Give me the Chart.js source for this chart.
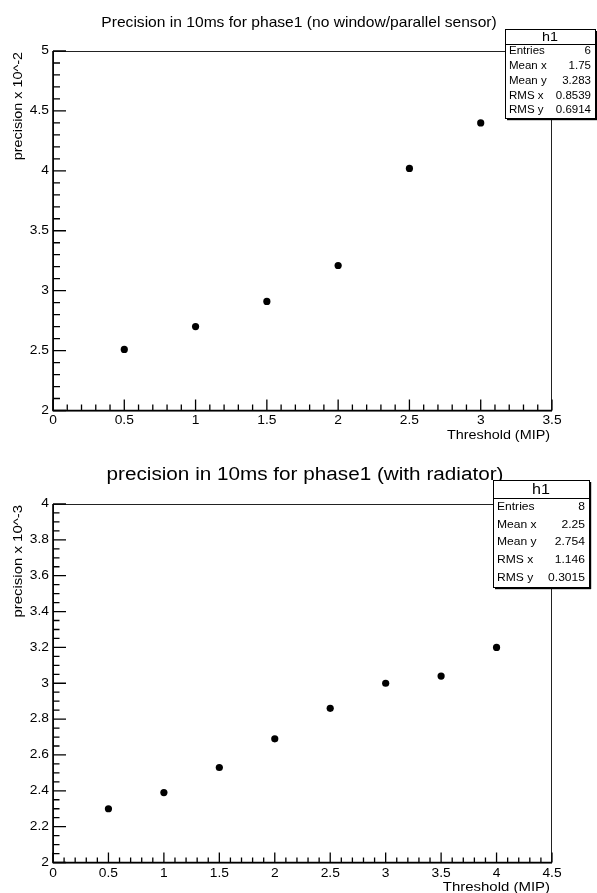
<!DOCTYPE html>
<html>
<head>
<meta charset="utf-8">
<title>precision vs threshold</title>
<script src="https://cdn.jsdelivr.net/npm/chart.js@4.4.1/dist/chart.umd.min.js"></script>
<style>
    html, body { margin: 0; padding: 0; background: #fff; }
    .pad { position: relative; width: 597px; }
    canvas { display: block; }
</style>
</head>
<body>
<div class="pad"><canvas id="phaseNoWindow" width="597" height="447"></canvas></div>
<div class="pad"><canvas id="phaseRadiator" width="597" height="446"></canvas></div>
<script>
// phase1, no window / parallel sensor (precision x 10^-2)
const topThreshold = [0.5, 1, 1.5, 2, 2.5, 3];
const topPrecision = [2.51, 2.70, 2.91, 3.21, 4.02, 4.40];
const topXTicks = [0, 0.5, 1, 1.5, 2, 2.5, 3, 3.5];
const topYTicks = [2, 2.5, 3, 3.5, 4, 4.5, 5];
const topStats = [['Entries', '6'], ['Mean x', '1.75'], ['Mean y', '3.283'], ['RMS x', '0.8539'], ['RMS y', '0.6914']];

// phase1 with radiator (precision x 10^-3)
const bottomThreshold = [0.5, 1, 1.5, 2, 2.5, 3, 3.5, 4];
const bottomPrecision = [2.30, 2.39, 2.53, 2.69, 2.86, 3.00, 3.04, 3.20];
const bottomXTicks = [0, 0.5, 1, 1.5, 2, 2.5, 3, 3.5, 4, 4.5];
const bottomYTicks = [2, 2.2, 2.4, 2.6, 2.8, 3, 3.2, 3.4, 3.6, 3.8, 4];
const bottomStats = [['Entries', '8'], ['Mean x', '2.25'], ['Mean y', '2.754'], ['RMS x', '1.146'], ['RMS y', '0.3015']];

const FONT = "'Liberation Sans', Arial, Helvetica, sans-serif";

function text(ctx, str, x, y, size, align, sx = 1, rotate = 0) {
    ctx.save();
    ctx.font = size + 'px ' + FONT;
    ctx.fillStyle = '#000';
    ctx.textAlign = align;
    ctx.textBaseline = 'middle';
    ctx.translate(x, y);
    if (rotate) ctx.rotate(rotate);
    ctx.scale(sx, 1);
    ctx.fillText(str, 0, 0);
    ctx.restore();
}

// ROOT-like frame: inward ticks, labels, titles and stat box
const rootFrame = {
    id: 'rootFrame',
    beforeDatasetsDraw(chart, args, o) {
        const ctx = chart.ctx;
        const { left, right, top, bottom } = chart.chartArea;
        const xs = chart.scales.x, ys = chart.scales.y;

        ctx.save();
        ctx.strokeStyle = '#222';
        ctx.lineWidth = 1;
        ctx.strokeRect(left + 0.5, top + 0.5, right - left - 1, bottom - top);

        ctx.strokeStyle = '#000';
        ctx.lineWidth = 1.6;
        ctx.beginPath();
        ctx.moveTo(left, top); ctx.lineTo(left, bottom); ctx.lineTo(right, bottom);
        ctx.stroke();

        ctx.lineWidth = 1.3;
        ctx.beginPath();
        // minor ticks
        for (let v = xs.min; v <= xs.max + 1e-9; v += o.xMinor) {
            const px = xs.getPixelForValue(v);
            ctx.moveTo(px, bottom); ctx.lineTo(px, bottom - o.xTick[1]);
        }
        for (let v = ys.min; v <= ys.max + 1e-9; v += o.yMinor) {
            const py = ys.getPixelForValue(v);
            ctx.moveTo(left, py); ctx.lineTo(left + o.yTick[1], py);
        }
        // major ticks
        o.xTicks.forEach(v => {
            const px = xs.getPixelForValue(v);
            ctx.moveTo(px, bottom); ctx.lineTo(px, bottom - o.xTick[0]);
        });
        o.yTicks.forEach(v => {
            const py = ys.getPixelForValue(v);
            ctx.moveTo(left, py); ctx.lineTo(left + o.yTick[0], py);
        });
        ctx.stroke();
        ctx.restore();

        o.xTicks.forEach(v => text(ctx, String(v), xs.getPixelForValue(v), bottom + o.xLabelDy, o.labelSize, 'center', o.labelSx));
        o.yTicks.forEach(v => text(ctx, String(v), left - 4, ys.getPixelForValue(v), o.labelSize, 'right', o.labelSx));

        text(ctx, o.xTitle, right - 2, bottom + o.xTitleDy, o.axisTitleSize, 'right', o.labelSx);
        text(ctx, o.yTitle, o.yTitleX, top + 1, o.axisTitleSize, 'right', o.labelSx, -Math.PI / 2);
        text(ctx, o.title, o.titleX, o.titleY, o.titleSize, 'center', o.titleSx);
    },
    afterDraw(chart, args, o) {
        const ctx = chart.ctx;
        const b = o.box;
        ctx.save();
        ctx.fillStyle = '#fff';
        ctx.fillRect(b.x, b.y, b.w, b.h);
        ctx.strokeStyle = '#000';
        ctx.lineWidth = 1;
        ctx.strokeRect(b.x + 0.5, b.y + 0.5, b.w, b.h);
        ctx.beginPath();
        ctx.moveTo(b.x, b.y + b.head + 0.5); ctx.lineTo(b.x + b.w, b.y + b.head + 0.5);
        ctx.stroke();
        ctx.fillStyle = '#000';
        ctx.fillRect(b.x + 2, b.y + b.h + 1, b.w, 1.2);
        ctx.fillRect(b.x + b.w + 1, b.y + 2, 1.2, b.h);
        ctx.restore();

        text(ctx, 'h1', b.x + b.w / 2, b.y + b.head / 2 + 1, b.headSize, 'center', o.labelSx);
        const row = (b.h - b.head) / o.stats.length;
        o.stats.forEach(([name, val], i) => {
            const cy = b.y + b.head + row * (i + 0.5);
            text(ctx, name, b.x + 4, cy, b.size, 'left', o.labelSx);
            text(ctx, val, b.x + b.w - 4, cy, b.size, 'right', o.labelSx);
        });
    }
};

function makePlot(id, xs, ys, xMax, yMin, yMax, padding, frame) {
    return new Chart(document.getElementById(id), {
        type: 'scatter',
        data: {
            datasets: [{
                data: xs.map((x, i) => ({ x: x, y: ys[i] })),
                pointStyle: 'circle',
                pointRadius: 3.6,
                pointBackgroundColor: '#000',
                pointBorderWidth: 0,
                clip: false
            }]
        },
        options: {
            responsive: false,
            animation: false,
            events: [],
            layout: { padding: padding },
            scales: {
                x: { type: 'linear', min: 0, max: xMax, display: false },
                y: { type: 'linear', min: yMin, max: yMax, display: false }
            },
            plugins: {
                legend: { display: false },
                tooltip: { enabled: false },
                rootFrame: frame
            }
        },
        plugins: [rootFrame]
    });
}

makePlot('phaseNoWindow', topThreshold, topPrecision, 3.5, 2, 5,
    { left: 53, right: 45, top: 51, bottom: 36.5 },
    {
        xTicks: topXTicks, yTicks: topYTicks, xMinor: 0.1, yMinor: 0.1,
        xTick: [11, 6], yTick: [13, 7],
        labelSize: 12, labelSx: 1.15, xLabelDy: 10,
        axisTitleSize: 12.5, xTitle: 'Threshold (MIP)', xTitleDy: 25,
        yTitle: 'precision x 10^-2', yTitleX: 19,
        title: 'Precision in 10ms for phase1 (no window/parallel sensor)',
        titleX: 299, titleY: 23, titleSize: 15, titleSx: 1.04,
        stats: topStats,
        box: { x: 505, y: 29, w: 90, h: 89, head: 15, headSize: 12.5, size: 10 }
    });

makePlot('phaseRadiator', bottomThreshold, bottomPrecision, 4.5, 2, 4,
    { left: 53, right: 45, top: 57, bottom: 30.5 },
    {
        xTicks: bottomXTicks, yTicks: bottomYTicks, xMinor: 0.1, yMinor: 0.05,
        xTick: [10, 5], yTick: [13, 6.5],
        labelSize: 12, labelSx: 1.15, xLabelDy: 11,
        axisTitleSize: 13, xTitle: 'Threshold (MIP)', xTitleDy: 25,
        yTitle: 'precision x 10^-3', yTitleX: 18,
        title: 'precision in 10ms for phase1 (with radiator)',
        titleX: 305, titleY: 28, titleSize: 18, titleSx: 1.15,
        stats: bottomStats,
        box: { x: 493, y: 33, w: 96, h: 107, head: 18, headSize: 14, size: 10.5 }
    });
</script>
</body>
</html>
